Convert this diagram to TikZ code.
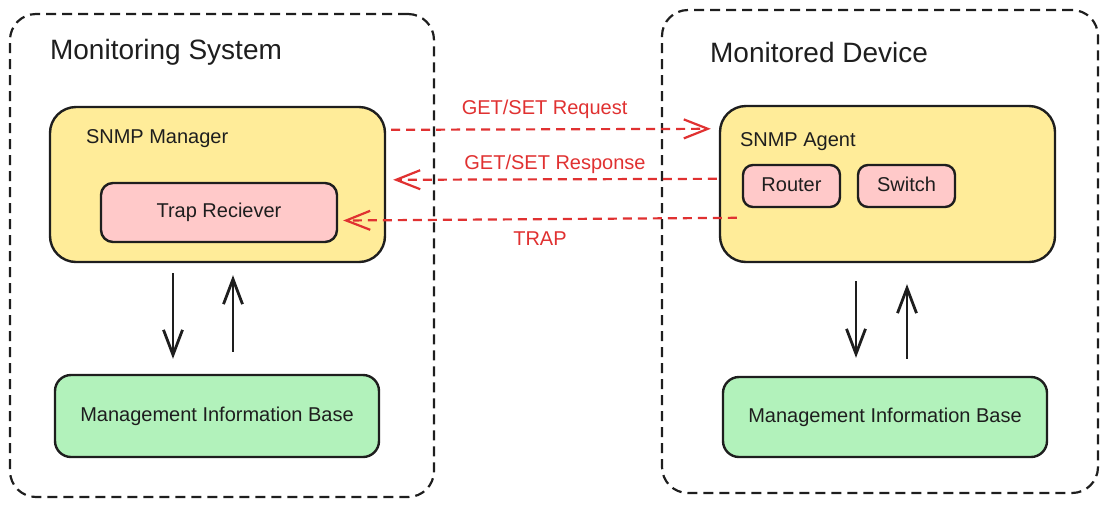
\documentclass[tikz,border=0pt]{standalone}
\usepackage{fontspec}
\setmainfont{Liberation Sans}
\usetikzlibrary{arrows.meta,calc}

\definecolor{ink}{HTML}{1E1E1E}
\definecolor{snmpyellow}{HTML}{FFEC99}
\definecolor{trappink}{HTML}{FFC9C9}
\definecolor{mibgreen}{HTML}{B2F2BB}
\definecolor{msgred}{HTML}{E03131}

\begin{document}
\begin{tikzpicture}[x=1pt, y=-1pt, line width=2.4pt,
      every node/.append style={font=\fontsize{20}{24}\selectfont, text=ink, inner sep=0pt},
      area/.style={draw=ink, line width=2.2pt, dash pattern=on 10pt off 6pt, rounded corners=26pt},
      box/.style={draw=ink, rounded corners=#1, text height=14.5pt, text depth=4pt},
      box/.default=12pt,
      msg/.style={draw=msgred, line width=2.2pt, dash pattern=on 9pt off 6pt, -{Straight Barb[length=24pt,width=19pt]}},
      flow/.style={draw=ink, line width=2.8pt, -{Straight Barb[length=25pt,width=19pt]}}]
    \tikzstyle{title} = [font=\fontsize{28}{32}\selectfont, anchor=base west]
    \tikzstyle{msglabel} = [text=msgred, text height=14.5pt, text depth=4pt]
    \useasboundingbox (0,0) rectangle (1108,507);
    % the two sides
    \node (sys) [area, minimum width=424pt, minimum height=483pt] at (222,255.5) {};
    \node (dev) [area, minimum width=436pt, minimum height=483pt] at (880,251.5) {};
    \node [title] (systitle) at ([xshift=40pt,yshift=-47pt]sys.north west) {Monitoring System};
    \node [title] (devtitle) at ([xshift=48pt,yshift=-54pt]dev.north west) {Monitored Device};
    % manager side
    \node (mgr) [box=26pt, fill=snmpyellow, minimum width=335pt, minimum height=155pt] at (217.5,184.5) {};
    \node [anchor=base west] (mgrtitle) at ([xshift=36pt,yshift=-38pt]mgr.north west) {SNMP Manager};
    \node (trap) [box, fill=trappink, minimum width=236pt, minimum height=59pt] at (219,212.5) {Trap Reciever};
    \node (lmib) [box=16pt, fill=mibgreen, minimum width=324pt, minimum height=82pt] at (217,416) {Management Information Base};
    % agent side
    \node (agent) [box=26pt, fill=snmpyellow, minimum width=335pt, minimum height=156pt] at (887.5,184) {};
    \node [anchor=base west] (agenttitle) at ([xshift=20pt,yshift=-42pt]agent.north west) {SNMP Agent};
    \node (router) [box=10pt, fill=trappink, minimum width=97pt, minimum height=42pt] at (791.5,186) {Router};
    \node (switch) [box=10pt, fill=trappink, minimum width=97pt, minimum height=42pt] at (906.5,186) {Switch};
    \node (rmib) [box=16pt, fill=mibgreen, minimum width=324pt, minimum height=80pt] at (885,417) {Management Information Base};
    % messages
    \draw [msg] ($(mgr.north east)+(5,24)$) to node [msglabel, pos=.48, above=10pt] {GET/SET Request} ($(agent.north west)+(-8,24)$);
    \draw [msg] ($(agent.north west)+(-2,74)$) to node [msglabel, pos=.5, above=4.5pt] {GET/SET Response} ($(mgr.north east)+(7,74)$);
    \draw [msg] ($(agent.north west)+(18,113)$) to node [msglabel, pos=.5, below=11pt] {TRAP} ($(trap.east)+(5,8)$);
    % to and from the MIB
    \draw [flow] ([xshift=-44.5pt,yshift=-10pt]mgr.south) -- ([xshift=-44pt,yshift=15pt]lmib.north);
    \draw [flow] ([xshift=16pt,yshift=22pt]lmib.north) -- ([xshift=15.5pt,yshift=-12pt]mgr.south);
    \draw [flow] ([xshift=-31.5pt,yshift=-18pt]agent.south) -- ([xshift=-29pt,yshift=18pt]rmib.north);
    \draw [flow] ([xshift=22pt,yshift=17pt]rmib.north) -- ([xshift=19.5pt,yshift=-21pt]agent.south);
\end{tikzpicture}
\end{document}
